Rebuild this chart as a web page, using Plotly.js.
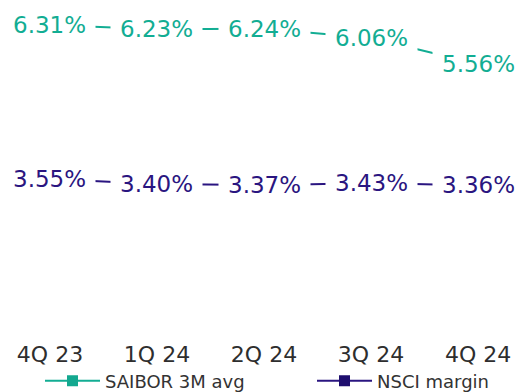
<!DOCTYPE html>
<html><head><meta charset="utf-8">
<script src="https://cdn.plot.ly/plotly-3.0.1.min.js"></script>
<style>html,body{margin:0;padding:0;background:#fff}#c{width:517px;height:392px}</style>
</head><body><div id="c"></div>
<script>
const quarters = ["4Q 23","1Q 24","2Q 24","3Q 24","4Q 24"];
const saibor = [6.31,6.23,6.24,6.06,5.56];
const nsci = [3.55,3.40,3.37,3.43,3.36];
const tealC = "#12ad93", purpC = "#2a1580";
const fontF = "DejaVu Sans, Verdana, sans-serif";

const traces = [
 {x:quarters,y:saibor,name:"SAIBOR 3M avg",mode:"lines+markers",yaxis:"y",legend:"legend",
  line:{color:tealC,width:2},marker:{symbol:"square",size:11,color:"#13a88f"}},
 {x:quarters,y:nsci,name:"NSCI margin",mode:"lines+markers",yaxis:"y2",legend:"legend2",
  line:{color:purpC,width:2},marker:{symbol:"square",size:11,color:"#1e0e6e"}}
];
const ann = [];
quarters.forEach((q,i)=>{
  ann.push({x:q,y:saibor[i],yref:"y",xref:"x",text:saibor[i].toFixed(2)+"%",showarrow:false,
    bgcolor:"#fff",borderpad:9,font:{family:fontF,size:23,color:tealC}});
  ann.push({x:q,y:nsci[i],yref:"y2",xref:"x",text:nsci[i].toFixed(2)+"%",showarrow:false,
    bgcolor:"#fff",borderpad:9,font:{family:fontF,size:23,color:purpC}});
});
const legBase = {orientation:"h",xanchor:"left",y:-0.155,yanchor:"middle",
    font:{family:fontF,size:18,color:"#333"},itemwidth:55,bgcolor:"rgba(0,0,0,0)"};
const layout = {
  width:517,height:392,paper_bgcolor:"#fff",plot_bgcolor:"#fff",
  margin:{l:0,r:0,t:0,b:62,autoexpand:false},
  showlegend:true,
  legend:Object.assign({},legBase,{x:40/517}),
  legend2:Object.assign({},legBase,{x:312/517}),
  xaxis:{type:"category",range:[-0.467,4.364],showgrid:false,zeroline:false,showline:false,
    ticks:"",ticklabelstandoff:9,tickfont:{family:fontF,size:22,color:"#2e2e2e"},fixedrange:true},
  yaxis:{range:[0.445,6.791],visible:false,fixedrange:true},
  yaxis2:{range:[-0.891,8.815],visible:false,overlaying:"y",fixedrange:true},
  annotations:ann
};
Plotly.newPlot("c",traces,layout,{staticPlot:true});
</script></body></html>
